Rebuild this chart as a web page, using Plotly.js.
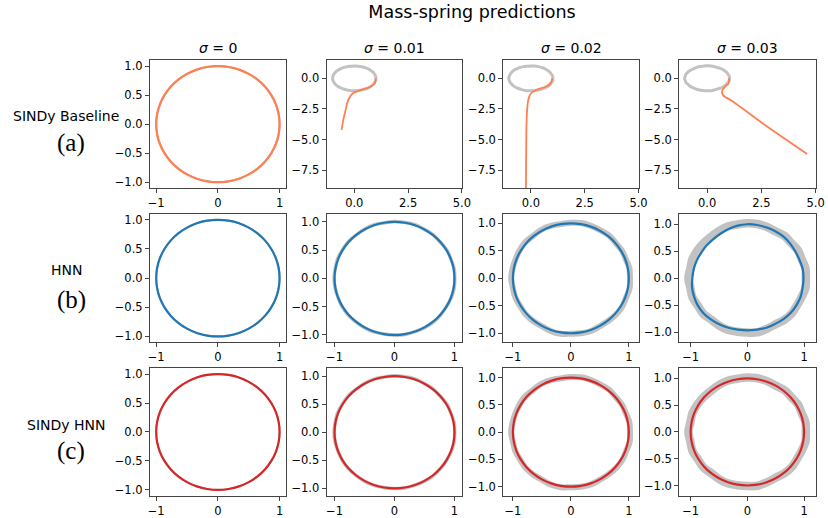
<!DOCTYPE html>
<html><head><meta charset="utf-8">
<script src="https://cdn.plot.ly/plotly-3.0.1.min.js"></script>
<style>html,body{margin:0;padding:0;background:#fff}#chart{width:828px;height:518px}</style>
</head><body><div id="chart"></div>
<script>
// ---------- data ----------
const figTitle = "Mass-spring predictions";
const sigmaLabels = ["0", "0.01", "0.02", "0.03"];
const modelNames = ["SINDy Baseline", "HNN", "SINDy HNN"];
const panelTags = ["(a)", "(b)", "(c)"];

// unit circle sampled every 10 degrees (closed)
const circleX = [1,0.985,0.940,0.866,0.766,0.643,0.5,0.342,0.174,0,-0.174,-0.342,-0.5,-0.643,-0.766,-0.866,-0.940,-0.985,-1,-0.985,-0.940,-0.866,-0.766,-0.643,-0.5,-0.342,-0.174,0,0.174,0.342,0.5,0.643,0.766,0.866,0.940,0.985,1];
const circleY = [0,0.174,0.342,0.5,0.643,0.766,0.866,0.940,0.985,1,0.985,0.940,0.866,0.766,0.643,0.5,0.342,0.174,0,-0.174,-0.342,-0.5,-0.643,-0.766,-0.866,-0.940,-0.985,-1,-0.985,-0.940,-0.866,-0.766,-0.643,-0.5,-0.342,-0.174,0];

// radial deviation of noisy observations (grey), per noise level
const noiseDev0  = [0,0,0,0,0,0,0,0,0,0,0,0,0,0,0,0,0,0,0,0,0,0,0,0,0,0,0,0,0,0,0,0,0,0,0,0,0];
const noiseDev01 = [0.005,0.01,0,0.008,-0.004,0.006,0,0.01,0.004,0.006,-0.003,0.007,0.004,0,0.008,0.005,0.01,0.003,0.008,0.004,0,0.006,0.009,0.002,0.005,0.007,0,0.004,0.008,0.003,0.006,0.01,0.004,0,0.006,0.009,0.005];
const noiseDev02 = [0.02,0.025,0.01,0.015,0.005,0.02,0.01,0.015,0.02,0.01,0,0.015,0.02,0.01,0.025,0.02,0.015,0.02,0.03,0.015,0.02,0.01,0.02,0.015,0.005,0.02,0.025,0.01,0.015,0.02,0.005,0.01,0.02,0.025,0.015,0.03,0.02];
const noiseDev03 = [0.03,0.04,0.02,0.03,0.01,0.02,0,0.01,0.02,0.02,0.01,0.02,0.01,0,0.01,0.02,0.03,0.02,0.04,0.02,0.03,0.01,0.02,0,0.01,0.02,0.01,0.01,0.02,0,-0.01,0.01,0.02,0.01,0.02,0.04,0.03];

// predicted orbit radii (closed orbits)
const unitR   = [1,1,1,1,1,1,1,1,1,1,1,1,1,1,1,1,1,1,1,1,1,1,1,1,1,1,1,1,1,1,1,1,1,1,1,1,1];
const hnnR03  = [0.99,0.99,0.98,0.98,0.99,1,1,1,1,1,0.99,0.97,0.95,0.94,0.94,0.94,0.95,0.96,0.97,0.99,1,1.01,1.01,1,0.99,0.98,0.97,0.97,0.97,0.98,0.98,0.99,1,1,1,0.99,0.99];

// SINDy baseline diverging trajectories
const sindy01X = [1.0,0.96,0.73,0.27,-0.05,-0.28,-0.40,-0.51,-0.59];
const sindy01Y = [0.0,-0.39,-0.71,-0.99,-1.20,-1.75,-2.57,-3.39,-4.21];
const sindy02X = [1.0,0.92,0.66,0.27,-0.01,-0.12,-0.18,-0.21,-0.23,-0.24];
const sindy02Y = [0.0,-0.39,-0.71,-0.93,-1.26,-1.75,-2.71,-4.21,-8.85,-9.5];
const sindy03X = [1.0,1.0,0.84,0.72,0.69,0.80,1.07,2.80,4.61];
const sindy03Y = [0.0,-0.39,-0.66,-0.93,-1.20,-1.48,-1.75,-3.97,-6.17];

// ---------- build ----------
const colDom = [[0.1812,0.3451],[0.3946,0.5583],[0.6079,0.7717],[0.8204,0.9855]];
const rowDom = [[0.6371,0.8836],[0.3392,0.5869],[0.0431,0.2890]];
const smallRange = [[-1.1,1.1],[-1.13,1.13],[-1.165,1.175],[-1.2,1.21]];
const smallRangeY = [[-1.1,1.1],[-1.13,1.14],[-1.165,1.17],[-1.19,1.19]];
const greyW = [[2,3,3,3],[2,3.5,6,8.5],[2,3.5,6,8.5]];
const noiseSets = [noiseDev0, noiseDev01, noiseDev02, noiseDev03];
const predColors = ["#ff7f50", "#1f77b4", "#d62728"];
const predRadii = [[unitR,null,null,null],[unitR,unitR,unitR,hnnR03],[unitR,unitR,unitR,unitR]];
const trajX = [null, sindy01X, sindy02X, sindy03X];
const trajY = [null, sindy01Y, sindy02Y, sindy03Y];

const traces = [];
const layout = {
  width: 828, height: 518,
  margin: {l:0, r:0, t:0, b:0},
  paper_bgcolor: "#fff", plot_bgcolor: "#fff",
  showlegend: false,
  font: {family: "DejaVu Sans", color: "#000", size: 11},
  title: {text: figTitle, font: {family: "DejaVu Sans", size: 17.5, color: "#000"},
          x: 472/828, xanchor: "center", y: 1 - 12/518, yanchor: "middle"},
  annotations: []
};
const axBase = {
  showgrid: false, zeroline: false, showline: true, mirror: true,
  linecolor: "#444", linewidth: 1.1, ticks: "outside", ticklen: 4, tickwidth: 1,
  tickcolor: "#444", tickfont: {family: "DejaVu Sans", size: 11.5, color: "#000"},
  fixedrange: true
};
const cTick = {v:[-1,0,1], t:["\u22121","0","1"]};
const cTickY = {v:[-1,-0.5,0,0.5,1], t:["\u22121.0","\u22120.5","0.0","0.5","1.0"]};
const bTickX = {v:[0,2.5,5], t:["0.0","2.5","5.0"]};
const bTickY = {v:[-7.5,-5,-2.5,0], t:["\u22127.5","\u22125.0","\u22122.5","0.0"]};

for (let r = 0; r < 3; r++) {
  for (let c = 0; c < 4; c++) {
    const k = r*4 + c + 1;
    const xa = "x" + (k > 1 ? k : ""), ya = "y" + (k > 1 ? k : "");
    const xl = "xaxis" + (k > 1 ? k : ""), yl = "yaxis" + (k > 1 ? k : "");
    const big = (r === 0 && c > 0);
    layout[xl] = Object.assign({}, axBase, {
      domain: colDom[c], anchor: ya,
      range: big ? [-1.28, 5.02] : smallRange[c],
      tickvals: big ? bTickX.v : cTick.v, ticktext: big ? bTickX.t : cTick.t
    });
    layout[yl] = Object.assign({}, axBase, {
      domain: rowDom[r], anchor: xa,
      range: big ? [-8.94, 1.47] : smallRangeY[c],
      tickvals: big ? bTickY.v : cTickY.v, ticktext: big ? bTickY.t : cTickY.t
    });
    // noisy observations (grey)
    const dev = noiseSets[c];
    traces.push({
      type: "scatter", mode: "lines", xaxis: xa, yaxis: ya,
      x: circleX.map((v,i) => v*(1+dev[i])), y: circleY.map((v,i) => v*(1+dev[i])),
      line: {color: "#c2c2c2", width: greyW[r][c], shape: "spline"}, hoverinfo: "skip"
    });
    // prediction
    if (big) {
      traces.push({
        type: "scatter", mode: "lines", xaxis: xa, yaxis: ya,
        x: trajX[c], y: trajY[c],
        line: {color: predColors[r], width: 1.8, shape: "spline", smoothing: 0.8}, hoverinfo: "skip"
      });
    } else {
      const pr = predRadii[r][c];
      traces.push({
        type: "scatter", mode: "lines", xaxis: xa, yaxis: ya,
        x: circleX.map((v,i) => v*pr[i]), y: circleY.map((v,i) => v*pr[i]),
        line: {color: predColors[r], width: 2.2, shape: "spline"}, hoverinfo: "skip"
      });
    }
  }
}

// column titles
const colCenters = [217.85, 394.5, 571.15, 747.65];
sigmaLabels.forEach((s, c) => {
  layout.annotations.push({
    xref: "paper", yref: "paper", x: colCenters[c]/828, y: 1 - 48/518,
    xanchor: "center", yanchor: "middle", showarrow: false,
    text: "<i>\u03c3</i> = " + s, font: {family: "DejaVu Sans", size: 14, color: "#000"}
  });
});
// row labels
const nameY = [116, 270, 425];
const tagY = [143, 300, 451];
modelNames.forEach((n, r) => {
  layout.annotations.push({
    xref: "paper", yref: "paper", x: 66/828, y: 1 - nameY[r]/518,
    xanchor: "center", yanchor: "middle", showarrow: false,
    text: n, font: {family: "DejaVu Sans", size: 14, color: "#000"}
  });
  layout.annotations.push({
    xref: "paper", yref: "paper", x: 71/828, y: 1 - tagY[r]/518,
    xanchor: "center", yanchor: "middle", showarrow: false,
    text: panelTags[r], font: {family: "Liberation Serif", size: 25, color: "#000"}
  });
});

Plotly.newPlot("chart", traces, layout, {displayModeBar: false, staticPlot: true});
</script>
</body></html>
